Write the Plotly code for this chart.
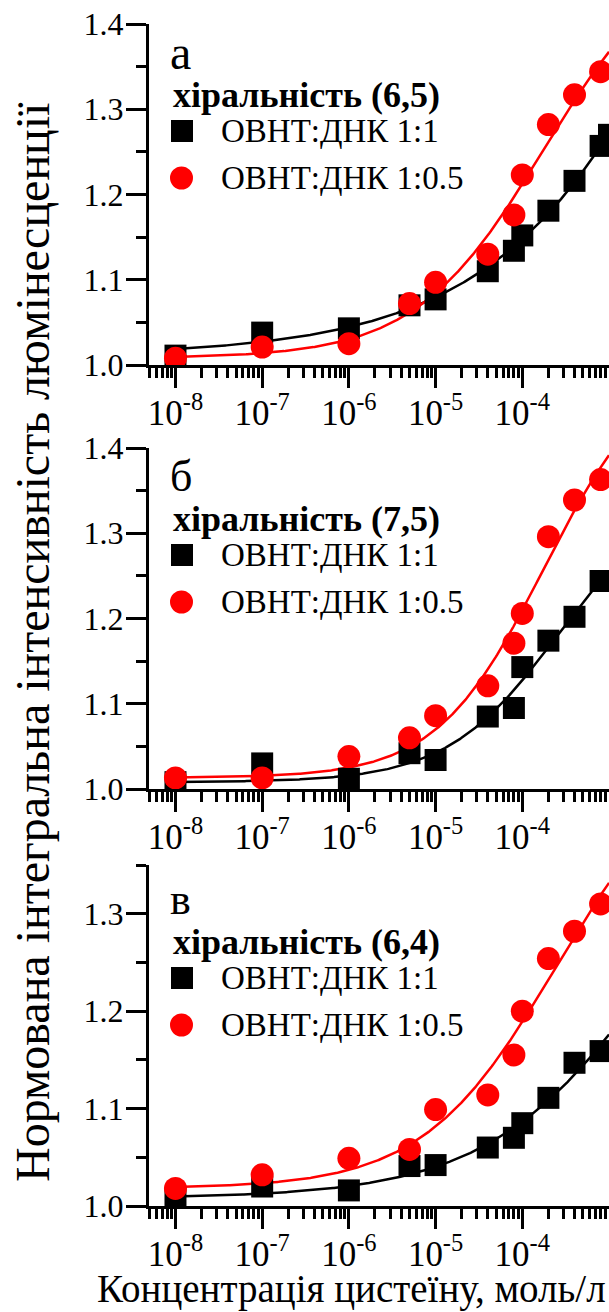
import numpy as np
import plotly.graph_objects as go

W, H = 609, 1312
LEFT = 149  # width of the left margin (tick labels + y title)

# Cysteine concentration, mol/L
conc = [1e-8, 1e-7, 1e-6, 5e-6, 1e-5, 4e-5, 8e-5, 1e-4, 2e-4, 4e-4, 8e-4]
conc_a_11 = conc + [1e-3]

# Normalised integral PL intensity, chirality (6,5)
a_11 = [1.011, 1.038, 1.043, 1.070, 1.077, 1.110, 1.134, 1.152, 1.181, 1.216, 1.257, 1.270]
a_105 = [1.008, 1.021, 1.025, 1.072, 1.097, 1.130, 1.176, 1.223, 1.282, 1.317, 1.344]
# chirality (7,5)
b_11 = [1.008, 1.030, 1.012, 1.042, 1.034, 1.085, 1.095, 1.143, 1.174, 1.202, 1.244]
b_105 = [1.013, 1.013, 1.038, 1.060, 1.086, 1.121, 1.171, 1.206, 1.296, 1.339, 1.363]
# chirality (6,4)
c_11 = [1.008, 1.020, 1.016, 1.041, 1.042, 1.060, 1.070, 1.085, 1.111, 1.147, 1.159]
c_105 = [1.018, 1.032, 1.049, 1.058, 1.099, 1.114, 1.155, 1.200, 1.254, 1.282, 1.310]

panel_letters = ["а", "б", "в"]
chiralities = ["хіральність (6,5)", "хіральність (7,5)", "хіральність (6,4)"]
series_names = ["ОВНТ:ДНК 1:1", "ОВНТ:ДНК 1:0.5"]
y_ranges = [[1.0, 1.4], [1.0, 1.4], [1.0, 1.35]]
y_ticks = [[1.0, 1.1, 1.2, 1.3, 1.4], [1.0, 1.1, 1.2, 1.3, 1.4], [1.0, 1.1, 1.2, 1.3]]
x_ticks = [1e-8, 1e-7, 1e-6, 1e-5, 1e-4]
x_ticktext = ["10<sup>-8</sup>", "10<sup>-7</sup>", "10<sup>-6</sup>",
              "10<sup>-5</sup>", "10<sup>-4</sup>"]

BLACK = "#000000"
RED = "#ff0000"
FONT = "Liberation Serif, Times New Roman, serif"


def hill_fit(x, y):
    """Fit y = A2 + (A1 - A2) / (1 + (x/x0)^p), with the baseline A1 held at
    the response of the lowest concentration."""
    lx = np.log10(np.asarray(x, float))
    y = np.asarray(y, float)
    a1 = y[0]
    best = None
    for lx0 in np.arange(-6.5, -0.5, 0.01):
        for p in np.arange(0.2, 2.0, 0.01):
            g = 1.0 / (1.0 + 10 ** (p * (lx - lx0)))
            h = 1.0 - g
            rhs = y - a1 * g
            a2 = np.dot(h, rhs) / np.dot(h, h)
            err = np.sum((a1 * g + a2 * h - y) ** 2)
            if best is None or err < best[0]:
                best = (err, lx0, p, a2)
    _, lx0, p, a2 = best

    def f(xx):
        return a2 + (a1 - a2) / (1.0 + (np.asarray(xx) / 10 ** lx0) ** p)
    return f


def px(x):
    return (x - LEFT) / (W - LEFT)


def py(y):
    return 1 - y / H


panels = [
    (conc_a_11, a_11, conc, a_105),
    (conc, b_11, conc, b_105),
    (conc, c_11, conc, c_105),
]

# vertical pixel extents of each plotting area (top of y range, y = 1.0)
plot_px = [(24, 365), (448, 789), (865, 1206)]

fig = go.Figure()
x_fit = np.logspace(-8, -3, 400)

for i, (xb, yb, xr, yr) in enumerate(panels):
    xa = "x" if i == 0 else f"x{i + 1}"
    ya = "y" if i == 0 else f"y{i + 1}"
    fb = hill_fit(xb, yb)
    fr = hill_fit(xr, yr)
    fig.add_trace(go.Scatter(x=x_fit, y=fb(x_fit), mode="lines",
                             line=dict(color=BLACK, width=2.5),
                             xaxis=xa, yaxis=ya, showlegend=False))
    fig.add_trace(go.Scatter(x=x_fit, y=fr(x_fit), mode="lines",
                             line=dict(color=RED, width=2.5),
                             xaxis=xa, yaxis=ya, showlegend=False))
    fig.add_trace(go.Scatter(x=xb, y=yb, mode="markers", name=series_names[0],
                             marker=dict(symbol="square", size=22, color=BLACK),
                             xaxis=xa, yaxis=ya, showlegend=False))
    fig.add_trace(go.Scatter(x=xr, y=yr, mode="markers", name=series_names[1],
                             marker=dict(symbol="circle", size=23, color=RED),
                             xaxis=xa, yaxis=ya, showlegend=False))

# minor tick positions on the log axis: 2..9 x each decade
minor_x = [d * 10.0 ** n for n in range(-9, -3) for d in range(2, 10)
           if 4.9e-9 <= d * 10.0 ** n <= 1e-3]

axis_common = dict(showline=True, linewidth=3, linecolor=BLACK, showgrid=False,
                   zeroline=False, ticks="outside", tickwidth=3, ticklen=20,
                   tickcolor=BLACK, automargin=False)

layout = dict(template="none", width=W, height=H, autosize=False,
              margin=dict(l=LEFT, r=0, t=0, b=0, pad=0, autoexpand=False),
              plot_bgcolor="white", paper_bgcolor="white",
              font=dict(family=FONT, color=BLACK), showlegend=False)

shapes = []
annotations = []
for i in range(3):
    top, bot = plot_px[i]
    xk = "xaxis" if i == 0 else f"xaxis{i + 1}"
    yk = "yaxis" if i == 0 else f"yaxis{i + 1}"
    anchor_y = "y" if i == 0 else f"y{i + 1}"
    anchor_x = "x" if i == 0 else f"x{i + 1}"
    layout[xk] = dict(axis_common, type="log", range=[np.log10(4.95e-9), -3.0],
                      anchor=anchor_y, domain=[0, 1],
                      tickmode="array", tickvals=x_ticks, ticktext=x_ticktext,
                      tickfont=dict(family=FONT, size=35, color=BLACK),
                      ticklabelstandoff=-5,
                      minor=dict(ticks="outside", ticklen=10, tickwidth=2.5,
                                 tickcolor=BLACK, tickmode="array", tickvals=minor_x,
                                 showgrid=False))
    layout[yk] = dict(axis_common, range=y_ranges[i], anchor=anchor_x,
                      domain=[py(bot), py(top)],
                      tickmode="array", tickvals=y_ticks[i], tickformat=".1f",
                      tickfont=dict(family=FONT, size=32, color=BLACK),
                      ticklabelstandoff=-4,
                      minor=dict(ticks="outside", ticklen=10, tickwidth=3,
                                 tickcolor=BLACK, dtick=0.05, showgrid=False))

    off = 0 if i < 2 else 6
    # panel letter
    annotations.append(dict(text=panel_letters[i], xref="paper", yref="paper",
                            x=px(168), y=py(top + 28 + off), xanchor="left",
                            yanchor="middle", showarrow=False,
                            font=dict(family=FONT, size=48 if i == 0 else 44)))
    # legend block
    ty = top + 71 + off
    annotations.append(dict(text="<b>" + chiralities[i] + "</b>", xref="paper",
                            yref="paper", x=px(171), y=py(ty), xanchor="left",
                            yanchor="middle", showarrow=False,
                            font=dict(family=FONT, size=36)))
    r1 = top + 107 + off
    r2 = top + 154 + off
    annotations.append(dict(text=series_names[0], xref="paper", yref="paper",
                            x=px(219), y=py(r1), xanchor="left", yanchor="middle",
                            showarrow=False, font=dict(family=FONT, size=33)))
    annotations.append(dict(text=series_names[1], xref="paper", yref="paper",
                            x=px(219), y=py(r2), xanchor="left", yanchor="middle",
                            showarrow=False, font=dict(family=FONT, size=33)))
    shapes.append(dict(type="rect", xref="paper", yref="paper",
                       x0=px(171), x1=px(193), y0=py(r1 - 11), y1=py(r1 + 11),
                       fillcolor=BLACK, line=dict(width=0)))
    shapes.append(dict(type="circle", xref="paper", yref="paper",
                       x0=px(170), x1=px(193), y0=py(r2 - 11.5), y1=py(r2 + 11.5),
                       fillcolor=RED, line=dict(width=0)))

# axis titles
annotations.append(dict(text="Нормована інтегральна інтенсивність люмінесценції",
                        xref="paper", yref="paper", x=px(33), y=py(642),
                        xanchor="center", yanchor="middle", textangle=-90,
                        showarrow=False, font=dict(family=FONT, size=48)))
annotations.append(dict(text="Концентрація цистеїну, моль/л",
                        xref="paper", yref="paper", x=px(608), y=py(1289),
                        xanchor="right", yanchor="middle",
                        showarrow=False, font=dict(family=FONT, size=39)))

layout["shapes"] = shapes
layout["annotations"] = annotations
fig.update_layout(layout)

fig.write_html("out.html")
